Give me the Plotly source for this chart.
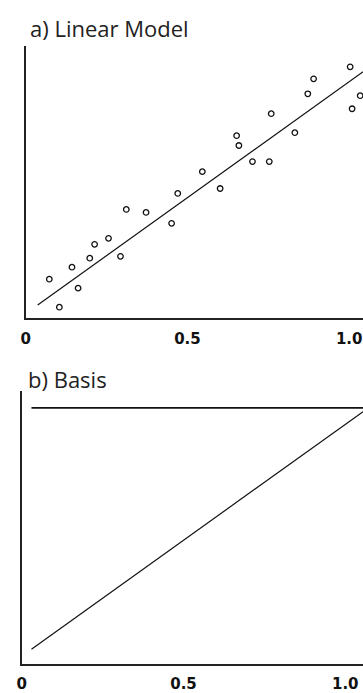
import plotly.graph_objects as go

# Observed data for the linear model panel
obs_x = [0.073, 0.104, 0.143, 0.162, 0.198, 0.213, 0.256, 0.293, 0.311, 0.372,
         0.451, 0.470, 0.546, 0.601, 0.652, 0.659, 0.701, 0.753, 0.759, 0.832,
         0.872, 0.890, 1.003, 1.009, 1.034]
obs_y = [0.143, 0.040, 0.187, 0.110, 0.220, 0.271, 0.293, 0.227, 0.399, 0.388,
         0.348, 0.458, 0.538, 0.476, 0.670, 0.634, 0.575, 0.575, 0.751, 0.681,
         0.824, 0.879, 0.923, 0.769, 0.817]

# Fitted straight line (end points)
fit_x = [0.037, 1.043]
fit_y = [0.048, 0.905]

# Basis functions: constant and linear
basis_x = [0.030, 1.055]
basis_const = [1.0, 1.0]
basis_lin = [0.058, 0.985]

tick_vals = [0, 0.5, 1.0]
tick_text = ["<b>0</b>", "<b>0.5</b>", "<b>1.0</b>"]

W, H = 363, 693

fig = go.Figure()

fig.add_trace(go.Scatter(
    x=obs_x, y=obs_y, mode="markers", xaxis="x", yaxis="y",
    marker=dict(symbol="circle-open", size=5.5, color="#111",
                line=dict(width=1.3, color="#111")),
    showlegend=False, hoverinfo="skip"))
fig.add_trace(go.Scatter(
    x=fit_x, y=fit_y, mode="lines", xaxis="x", yaxis="y",
    line=dict(color="#111", width=1.2), showlegend=False, hoverinfo="skip"))

fig.add_trace(go.Scatter(
    x=basis_x, y=basis_const, mode="lines", xaxis="x2", yaxis="y2",
    line=dict(color="#111", width=1.8), showlegend=False, hoverinfo="skip"))
fig.add_trace(go.Scatter(
    x=basis_x, y=basis_lin, mode="lines", xaxis="x2", yaxis="y2",
    line=dict(color="#111", width=1.2), showlegend=False, hoverinfo="skip"))

tick_font = dict(family="DejaVu Sans", size=15, color="#111")
axis_common = dict(showgrid=False, zeroline=False, showline=True,
                   linecolor="#222", linewidth=2, ticks="", fixedrange=True)

title_font = dict(family="Open Sans", size=22, color="#222")

fig.update_layout(
    width=W, height=H,
    margin=dict(l=0, r=0, t=0, b=0),
    paper_bgcolor="white", plot_bgcolor="white",
    xaxis=dict(domain=[21 / W, 1], range=[0, 342 / 328], anchor="y",
               tickvals=tick_vals, ticktext=tick_text, ticklabelstandoff=6,
               tickfont=tick_font, **axis_common),
    yaxis=dict(domain=[1 - 319 / H, 1 - 46 / H], range=[0, 1], anchor="x",
               showticklabels=False, **axis_common),
    xaxis2=dict(domain=[17 / W, 1], range=[0, 346 / 328], anchor="y2",
                tickvals=tick_vals, ticktext=tick_text, ticklabelstandoff=5,
                tickfont=tick_font, **axis_common),
    yaxis2=dict(domain=[1 - 666 / H, 1 - 392 / H], range=[0, 1.066], anchor="x2",
                showticklabels=False, **axis_common),
    annotations=[
        dict(text="a) Linear Model", xref="paper", yref="paper",
             x=23 / W, y=1 - 28 / H, xanchor="left", yanchor="middle",
             showarrow=False, font=title_font),
        dict(text="b) Basis", xref="paper", yref="paper",
             x=21 / W, y=1 - 380 / H, xanchor="left", yanchor="middle",
             showarrow=False, font=title_font),
    ],
)

fig.write_html("out.html")
